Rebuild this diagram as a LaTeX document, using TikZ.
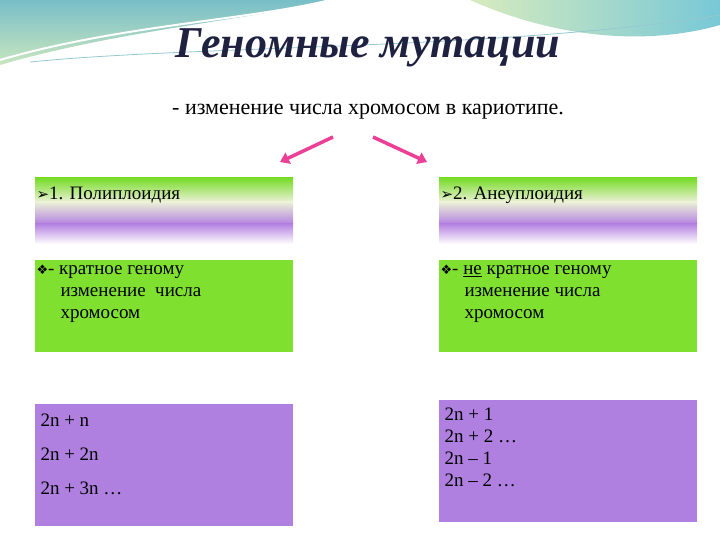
\documentclass[tikz,border=0pt]{standalone}
\usepackage{fontspec}
\usetikzlibrary{arrows.meta}
\setmainfont{Liberation Serif}
\newfontfamily\djsym{DejaVu Sans}
\definecolor{cgrn}{RGB}{128,224,48}
\definecolor{cprp}{RGB}{176,128,224}
\definecolor{cpink}{RGB}{236,64,150}
\definecolor{cteal}{RGB}{120,190,200}
\definecolor{cpale}{RGB}{200,230,190}
\definecolor{cpale2}{RGB}{215,235,190}
\definecolor{cteal2}{RGB}{120,200,215}
\definecolor{cline}{RGB}{150,200,210}
\definecolor{hg}{RGB}{120,220,40}
\definecolor{hw}{RGB}{235,240,215}
\definecolor{hp}{RGB}{180,130,225}
\definecolor{navy}{rgb}{0.12,0.13,0.25}
\begin{document}
\begin{tikzpicture}[x=1pt,y=-1pt,
  txt/.style={font=\fontsize{19}{22}\selectfont, anchor=north west, align=left, text=black},
  grn/.style={fill=cgrn},
  prp/.style={fill=cprp},
  arr/.style={line width=3.5pt, color=cpink, -{Triangle[length=9pt,width=12pt]}}]
\useasboundingbox (0,0) rectangle (720,540);
\fill[white] (0,0) rectangle (720,540);
% decorative swoosh
\shade[top color=cteal, bottom color=cpale]
  (0,0) -- (330,0) .. controls (250,20) and (120,30) .. (0,65) -- cycle;
\shade[left color=cpale2, right color=cteal2]
  (470,0) -- (720,0) -- (720,25) .. controls (650,45) and (560,40) .. (470,0) -- cycle;
\draw[white, line width=2pt] (0,60) .. controls (120,25) and (250,20) .. (330,0);
\draw[color=cline, line width=0.8pt] (30,62) .. controls (200,45) and (500,50) .. (720,15);
% title
\node (title) at (368,48) {\fontsize{44}{48}\selectfont\bfseries\itshape\color{navy} Геномные мутации};
\node (sub) at (368,112) {\fontsize{22}{26}\selectfont - изменение числа хромосом в кариотипе.};
\coordinate (a1s) at (333,137); \coordinate (a1e) at (280,162);
\coordinate (a2s) at (373,137); \coordinate (a2e) at (427,162);
\draw[arr] (a1s) -- (a1e);
\draw[arr] (a2s) -- (a2e);
% headers
\foreach \x in {35,439}{
  \shade[top color=hg, bottom color=hw] (\x,178) rectangle ++(258,24);
  \shade[top color=hw, bottom color=hp] (\x,202) rectangle ++(258,22);
  \shade[top color=hp, bottom color=white] (\x,224) rectangle ++(258,20);
}
\node[txt] (h1) at (33,183) {{\djsym\fontsize{15}{18}\selectfont ➢}1. Полиплоидия};
\node[txt] (h2) at (437,183) {{\djsym\fontsize{15}{18}\selectfont ➢}2. Анеуплоидия};
% green boxes
\fill[grn] (35,260) rectangle (293,352);
\fill[grn] (439,260) rectangle (697,352);
\node[txt] (g1) at (33,262) {{\djsym\fontsize{13}{18}\selectfont ❖}- кратное геному\\\hspace{24pt}изменение \ числа\\\hspace{24pt}хромосом};
\node[txt] (g2) at (437,262) {{\djsym\fontsize{13}{18}\selectfont ❖}- \underline{не} кратное геному\\\hspace{24pt}изменение числа\\\hspace{24pt}хромосом};
% purple boxes
\fill[prp] (35,404) rectangle (293,526);
\fill[prp] (439,400) rectangle (697,522);
\node[txt] (p1) at (37,410) {2n + n\\[12pt]2n + 2n\\[12pt]2n + 3n …};
\node[txt] (p2) at (441,404) {2n + 1\\2n + 2 …\\2n – 1\\2n – 2 …};
\end{tikzpicture}
\end{document}
